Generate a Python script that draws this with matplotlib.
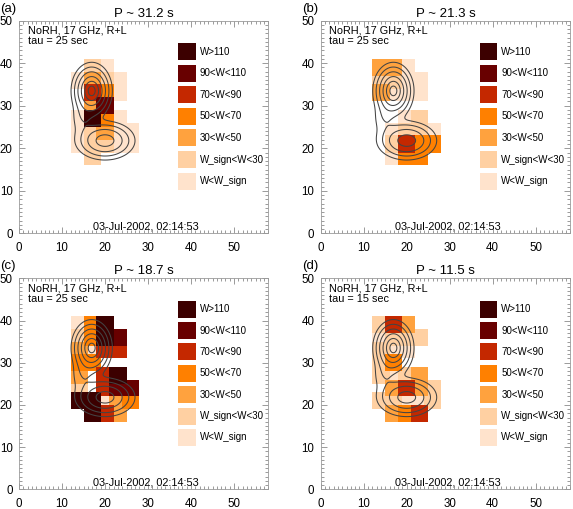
from __future__ import annotations

import matplotlib

matplotlib.use("Agg")
import matplotlib.pyplot as plt
import numpy as np
from matplotlib.patches import Rectangle
from matplotlib.ticker import MultipleLocator

plt.rcParams["font.family"] = ["Liberation Sans", "DejaVu Sans"]

# Wavelet power classes (lowest -> highest)
LEVEL_LABELS = ["W<W_sign", "W_sign<W<30", "30<W<50", "50<W<70", "70<W<90", "90<W<110", "W>110"]
LEVEL_COLORS = ["#ffe3cc", "#ffd0a2", "#ffa23e", "#ff8000", "#c42800", "#680000", "#3c0000"]

# Pixel grid of the maps (cell centres, arcsec)
GRID_X = [14, 17, 20, 23, 26]
GRID_Y = [39, 36, 33, 30, 27, 24, 21, 18]

# Level index per cell, rows follow GRID_Y (top -> bottom); -1 = not significant / empty
MAP_A = [
    [-1, 1, 0, -1, -1],
    [0, 2, 1, 0, -1],
    [-1, 4, 3, 0, -1],
    [-1, 2, 5, -1, -1],
    [0, 6, 3, 0, -1],
    [0, 1, 2, 0, 0],
    [0, 1, 1, 0, 0],
    [-1, 1, -1, -1, -1],
]
MAP_B = [
    [2, 2, 0, -1, -1],
    [1, 1, 0, 0, -1],
    [2, 0, 0, 0, -1],
    [-1, -1, -1, -1, -1],
    [-1, -1, 0, 1, -1],
    [-1, 0, 1, 1, 0],
    [-1, 1, 4, 3, 3],
    [-1, 0, 3, 3, -1],
]
MAP_C = [
    [0, 3, 6, -1, -1],
    [1, 3, 6, 5, -1],
    [2, 0, 4, 4, -1],
    [3, 3, -1, -1, -1],
    [2, -1, 4, 6, -1],
    [1, -1, 4, 5, 5],
    [6, 6, 0, 2, 3],
    [-1, 6, 4, 2, -1],
]
MAP_D = [
    [1, 4, 2, -1, -1],
    [0, 1, 1, 1, -1],
    [1, 0, 0, -1, -1],
    [1, 3, -1, -1, -1],
    [1, 0, 1, 2, -1],
    [-1, 2, 4, 2, 1],
    [1, 1, 0, 0, 1],
    [-1, 2, 3, 4, -1],
]

PANEL_TAGS = ["(a)", "(b)", "(c)", "(d)"]
PERIODS = ["P ~ 31.2 s", "P ~ 21.3 s", "P ~ 18.7 s", "P ~ 11.5 s"]
TAUS = ["tau = 25 sec", "tau = 25 sec", "tau = 25 sec", "tau = 15 sec"]
MAPS = [MAP_A, MAP_B, MAP_C, MAP_D]
INSTRUMENT = "NoRH, 17 GHz, R+L"
DATE = "03-Jul-2002, 02:14:53"

# 17 GHz source kernels (centre x, centre y, sigma x, sigma y, peak)
SOURCES = [
    (16.9, 33.5, 2.0, 2.8, 1.00),
    (20.0, 21.8, 3.2, 2.1, 0.60),
    (14.8, 27.0, 1.6, 2.2, 0.10),
]
CONTOUR_LEVELS = [0.056, 0.135, 0.278, 0.487, 0.726, 0.923]

# axes boxes in figure fraction: left, bottom, width, height
AX_BOXES = [
    (0.0332, 0.5417, 0.4353, 0.4176),
    (0.5597, 0.5417, 0.4353, 0.4176),
    (0.0332, 0.0387, 0.4353, 0.4145),
    (0.5597, 0.0387, 0.4353, 0.4145),
]


def _source_image():
    xx, yy = np.meshgrid(np.arange(0, 58.01, 0.1), np.arange(0, 50.01, 0.1))
    img = np.zeros_like(xx)
    for cx, cy, sx, sy, amp in SOURCES:
        img += amp * np.exp(-0.5 * (((xx - cx) / sx) ** 2 + ((yy - cy) / sy) ** 2))
    return xx, yy, img


def _draw_panel(ax, tag, period, tau, cells, xx, yy, img):
    size = 4.0
    # weaker classes first so the strong ones sit on top
    for lev in range(len(LEVEL_COLORS)):
        for j, row in enumerate(cells):
            for i, v in enumerate(row):
                if v != lev:
                    continue
                ax.add_patch(Rectangle((GRID_X[i] - size / 2, GRID_Y[j] - size / 2), size, size,
                                       facecolor=LEVEL_COLORS[v], edgecolor="none", zorder=1))

    ax.contour(xx, yy, img, levels=CONTOUR_LEVELS, colors="#444444", linewidths=0.75, zorder=3)

    # legend boxes
    for k, lev in enumerate(range(len(LEVEL_LABELS) - 1, -1, -1)):
        yc = 42.7 - 5.07 * k
        ax.add_patch(Rectangle((37.0, yc - 2.0), 4.1, 4.0, facecolor=LEVEL_COLORS[lev],
                               edgecolor="none", zorder=1))
        ax.text(42.0, yc, LEVEL_LABELS[lev], fontsize=7, va="center", ha="left")

    ax.text(2.0, 48.8, INSTRUMENT, fontsize=7.8, va="top", ha="left")
    ax.text(2.0, 46.4, tau, fontsize=7.8, va="top", ha="left")
    ax.text(29.5, 0.4, DATE, fontsize=7.8, va="bottom", ha="center")

    ax.set_xlim(0, 58)
    ax.set_ylim(0, 50)
    ax.set_xticks([0, 10, 20, 30, 40, 50])
    ax.set_yticks([0, 10, 20, 30, 40, 50])
    ax.xaxis.set_minor_locator(MultipleLocator(1))
    ax.yaxis.set_minor_locator(MultipleLocator(1))
    ax.tick_params(which="both", direction="in", top=True, right=True, color="#8a8a8a", width=0.6,
                   labelsize=8.3)
    ax.tick_params(axis="x", pad=6.5)
    ax.tick_params(axis="y", pad=4.5)
    ax.tick_params(which="major", length=4)
    ax.tick_params(which="minor", length=2)
    for sp in ax.spines.values():
        sp.set_color("#9a9a9a")
        sp.set_linewidth(0.6)

    ax.set_title(period, fontsize=9.5, pad=3)
    fig = ax.figure
    pos = ax.get_position()
    fig.text(pos.x0 - 0.033, pos.y1 + 0.012, tag, fontsize=9.5, ha="left", va="bottom")


def main() -> None:
    fig = plt.figure(figsize=(5.73, 5.09), dpi=100)
    xx, yy, img = _source_image()
    for box, tag, period, tau, cells in zip(AX_BOXES, PANEL_TAGS, PERIODS, TAUS, MAPS):
        ax = fig.add_axes(box)
        _draw_panel(ax, tag, period, tau, cells, xx, yy, img)
    fig.savefig("out.png", dpi=100)


if __name__ == "__main__":
    main()
